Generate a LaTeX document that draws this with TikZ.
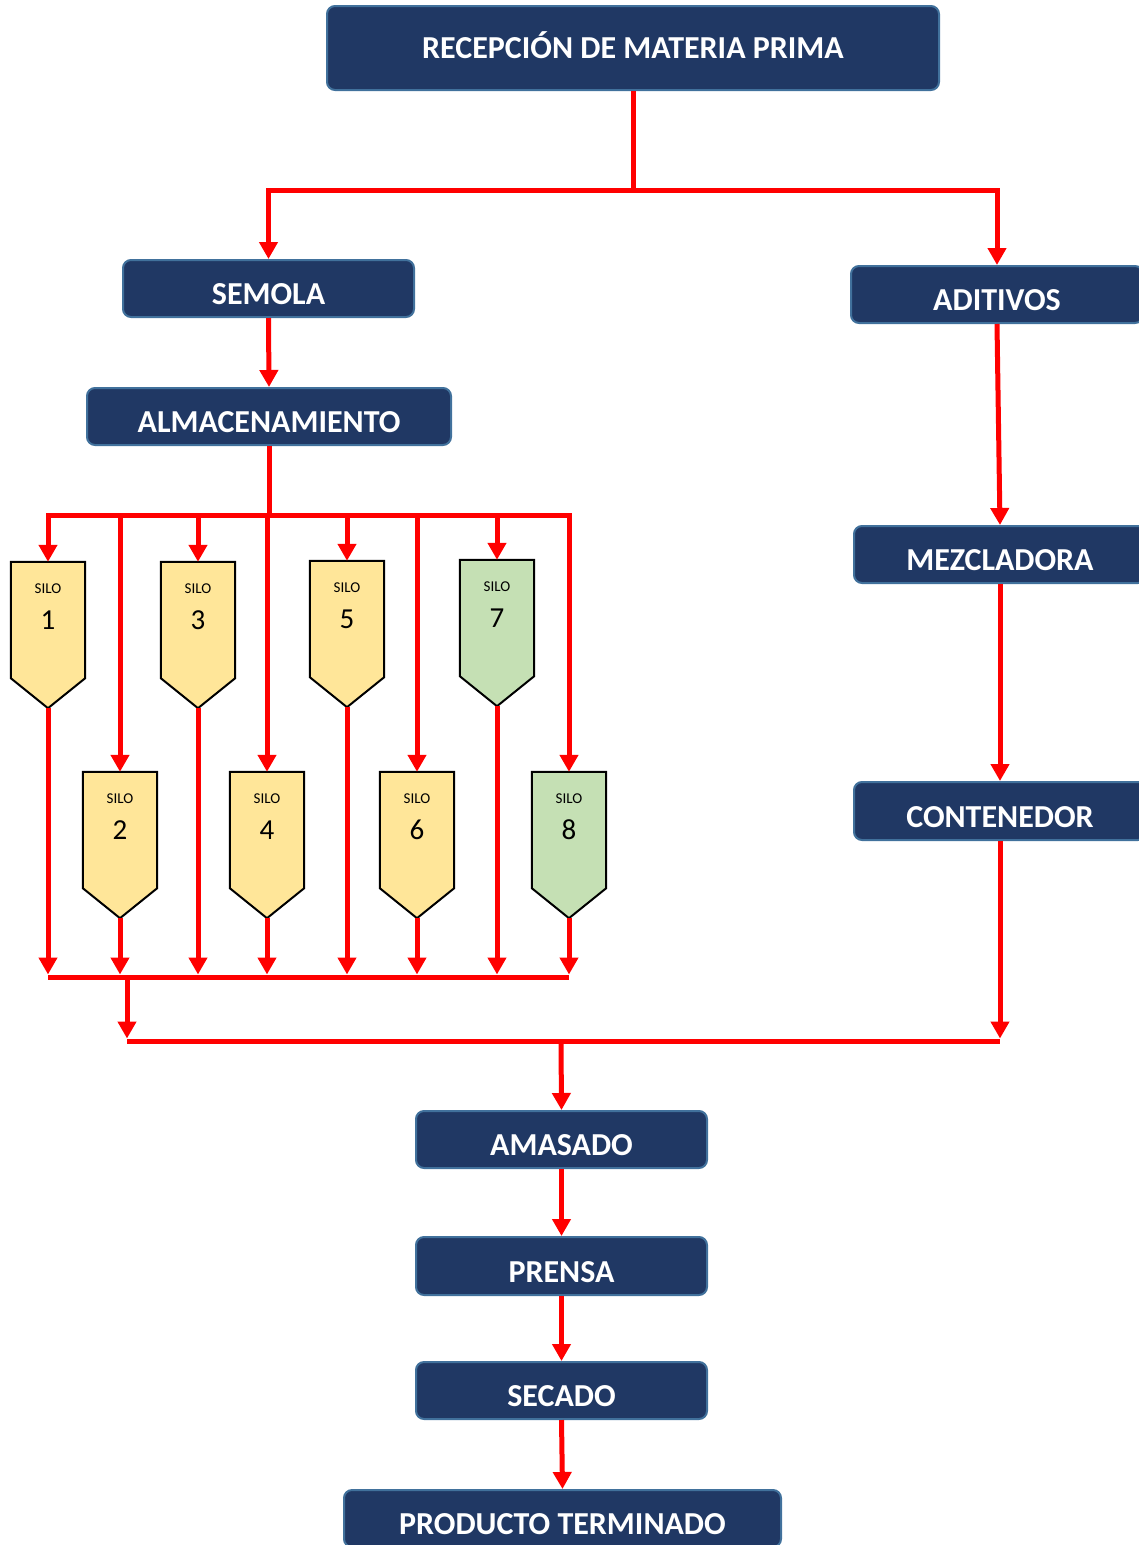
\documentclass[tikz,border=0pt]{standalone}
\usepackage{fontspec}
\setmainfont{Carlito}
\usetikzlibrary{arrows.meta}
\definecolor{boxblue}{HTML}{203864}
\definecolor{boxedge}{HTML}{41719C}
\definecolor{siloY}{HTML}{FFE699}
\definecolor{siloG}{HTML}{C5E0B4}
\definecolor{flow}{HTML}{FF0000}
\begin{document}
\begin{tikzpicture}[x=1pt,y=-1pt,
  box/.style={draw=boxedge, line width=2pt, fill=boxblue, rounded corners=8pt,
    text=white, font=\fontsize{32}{35}\selectfont\bfseries, inner sep=0pt,
    text height=32pt, text depth=0pt, minimum height=57pt},
  ln/.style={draw=flow, line width=5pt},
  busln/.style={ln, line cap=rect},
  ar/.style={ln, -{Triangle[width=18pt,length=17pt]}},
  silo/.style={minimum width=74pt, minimum height=146pt, inner sep=0pt},
  silooutline/.style={draw=black, line width=2pt},
  silosmall/.style={font=\fontsize{15}{16}\selectfont, inner sep=0pt},
  silonum/.style={font=\fontsize{29}{31}\selectfont, inner sep=0pt}
]
\useasboundingbox (0,0) rectangle (1138,1545);

% boxes
\node[box, minimum width=612pt, minimum height=84pt, text height=20pt] (recep) at (633,48) {RECEPCIÓN DE MATERIA PRIMA};
\node[box, minimum width=291pt] (semola) at (268.5,288.5) {SEMOLA};
\node[box, minimum width=292pt] (aditivos) at (997,294.5) {ADITIVOS};
\node[box, minimum width=364pt] (alm) at (269,416.5) {ALMACENAMIENTO};
\node[box, minimum width=292pt] (mezcl) at (1000,554.5) {MEZCLADORA};
\node[box, minimum width=292pt, minimum height=58pt] (cont) at (1000,811) {CONTENEDOR};
\node[box, minimum width=291pt] (amasado) at (561.5,1139.5) {AMASADO};
\node[box, minimum width=291pt, minimum height=58pt] (prensa) at (561.5,1266) {PRENSA};
\node[box, minimum width=291pt] (secado) at (561.5,1390.5) {SECADO};
\node[box, minimum width=437pt] (producto) at (562.5,1518.5) {PRODUCTO TERMINADO};

% silos
\foreach \n/\x/\t/\c in {1/48/562/siloY, 2/120/772/siloY, 3/198/562/siloY, 4/267/772/siloY,
                         5/347/561/siloY, 6/417/772/siloY, 7/497/560/siloG, 8/569/772/siloG} {
  \node[silo] (s\n) at (\x,\t+73) {};
  \filldraw[silooutline, fill=\c] (s\n.north west) -- (s\n.north east)
     -- ([yshift=30pt]s\n.south east) -- (s\n.south)
     -- ([yshift=30pt]s\n.south west) -- cycle;
  \node[silosmall] (s\n t) at ([yshift=-27pt]s\n.north) {SILO};
  \node[silonum] (s\n num) at ([yshift=-58pt]s\n.north) {\n};
}

% junction coordinates
\coordinate (j1) at (633,190);
\coordinate (busA) at (0,515);
\coordinate (busB) at (0,977);
\coordinate (busC) at (0,1041);
\coordinate (jB) at (127,977);
\coordinate (jC) at (561,1041);

% top split
\draw[ln] (recep.south) -- (j1);
\draw[ar] (j1) -| (semola.north);
\draw[ar] (j1) -| (aditivos.north);
\draw[ar] (semola.south) -- (alm.north);

% silo distribution
\draw[ln] (alm.south) -- (alm.south |- busA);
\draw[busln] (s1.north |- busA) -- (s8.north |- busA);
\foreach \n in {1,...,8} {
  \draw[ar] (s\n.north |- busA) -- (s\n.north);
}

% silo outputs
\draw[ln] (s1.south |- busB) -- (s8.south |- busB);
\foreach \n in {1,...,8} {
  \draw[ar] (s\n.south) -- ([yshift=2.5pt]s\n.south |- busB);
}

% right branch
\draw[ar] (aditivos.south) -- (mezcl.north);
\draw[ar] (mezcl.south) -- (cont.north);

% merge
\draw[ar] (jB) -- ([yshift=2.5pt]jB |- busC);
\draw[ln] (jB |- busC) -- (cont.south |- busC);
\draw[ar] (cont.south) -- ([yshift=2.5pt]cont.south |- busC);
\draw[ar] (jC) -- (amasado.north);

% final chain
\draw[ar] (amasado.south) -- (prensa.north);
\draw[ar] (prensa.south) -- (secado.north);
\draw[ar] (secado.south) -- (producto.north);
\end{tikzpicture}
\end{document}
